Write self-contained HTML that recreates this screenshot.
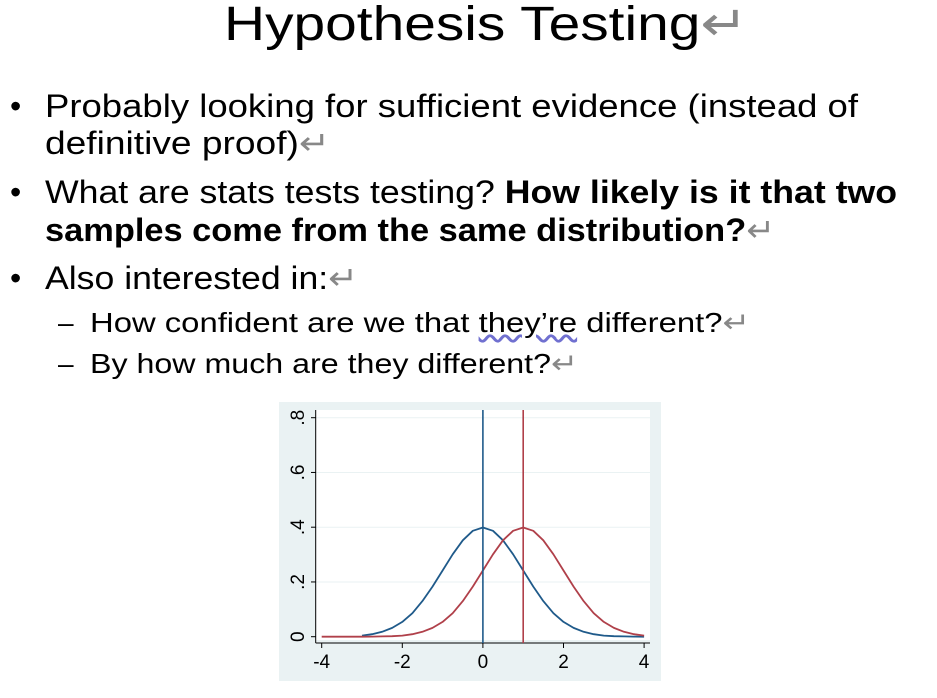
<!DOCTYPE html>
<html><head><meta charset="utf-8"><style>
body{margin:0;width:937px;height:698px;background:#fff;position:relative;overflow:hidden;font-family:"Liberation Sans",sans-serif;color:#000}
.l{position:absolute;white-space:nowrap;transform-origin:0 50%}
.r{color:#888}
.b{font-weight:bold}
</style></head><body>
<div class="l" data-w="524" style="left:224px;top:-4px;font-size:48px;line-height:58px">Hypothesis Testing<span class="r">↵</span></div>

<div class="l" style="left:10px;top:88px;font-size:32px;line-height:36px">•</div>
<div class="l" data-w="813" style="left:45px;top:88px;font-size:32px;line-height:36px">Probably looking for sufficient evidence (instead of</div>
<div class="l" data-w="285" style="left:45px;top:125px;font-size:32px;line-height:36px">definitive proof)<span class="r">↵</span></div>

<div class="l" style="left:10px;top:174px;font-size:32px;line-height:36px">•</div>
<div class="l" data-w="852" style="left:45px;top:174px;font-size:32px;line-height:36px">What are stats tests testing? <span class="b">How likely is it that two</span></div>
<div class="l b" data-w="730" style="left:45px;top:212px;font-size:32px;line-height:36px">samples come from the same distribution?<span class="r" style="font-weight:normal">↵</span></div>

<div class="l" style="left:10px;top:260px;font-size:32px;line-height:36px">•</div>
<div class="l" data-w="313" style="left:45px;top:260px;font-size:32px;line-height:36px">Also interested in:<span class="r">↵</span></div>

<div class="l" style="left:58px;top:307px;font-size:28px;line-height:32px">–</div>
<div class="l" data-w="660" style="left:90px;top:307px;font-size:28px;line-height:32px">How confident are we that <span style="text-decoration:underline wavy #7070d0">they’re</span> different?<span class="r">↵</span></div>
<div class="l" style="left:58px;top:348px;font-size:28px;line-height:32px">–</div>
<div class="l" data-w="488" style="left:90px;top:348px;font-size:28px;line-height:32px">By how much are they different?<span class="r">↵</span></div>

<svg id="chart" width="937" height="698" style="position:absolute;left:0;top:0"></svg>
<script>
const xTicks=[-4,-2,0,2,4];
const yTicks=[0,0.2,0.4,0.6,0.8];
const yTickLabels=["0",".2",".4",".6",".8"];
const xsBlue=[-3,-2.75,-2.5,-2.25,-2,-1.75,-1.5,-1.25,-1,-0.75,-0.5,-0.25,0,0.25,0.5,0.75,1,1.25,1.5,1.75,2,2.25,2.5,2.75,3,3.25,3.5,3.75,4];
const blueVals=[0.004,0.009,0.018,0.032,0.054,0.086,0.13,0.183,0.242,0.301,0.352,0.387,0.399,0.387,0.352,0.301,0.242,0.183,0.13,0.086,0.054,0.032,0.018,0.009,0.004,0.002,0.001,0.0004,0.0001];
const xsRed=[-4,-3.75,-3.5,-3.25,-3,-2.75,-2.5,-2.25,-2,-1.75,-1.5,-1.25,-1,-0.75,-0.5,-0.25,0,0.25,0.5,0.75,1,1.25,1.5,1.75,2,2.25,2.5,2.75,3,3.25,3.5,3.75,4];
const redVals=[0,0,0,0,0.0001,0.0004,0.001,0.002,0.004,0.009,0.018,0.032,0.054,0.086,0.13,0.183,0.242,0.301,0.352,0.387,0.399,0.387,0.352,0.301,0.242,0.183,0.13,0.086,0.054,0.032,0.018,0.009,0.004];
const blueMean=0, redMean=1;
const NS="http://www.w3.org/2000/svg";
const svg=document.getElementById('chart');
const X=v=>321.7+(v+4)*40.3;
const Y=v=>636.7-v*273.75;
function mk(t,a){const e=document.createElementNS(NS,t);for(const k in a)e.setAttribute(k,a[k]);svg.appendChild(e);return e;}
let e=mk('rect',{x:279,y:402,width:382,height:279,fill:'#eaf2f3'});


e=mk('rect',{x:316,y:410,width:334,height:230,fill:'#fff'});


yTicks.forEach((t,i)=>{
 if(t>0){e=mk('line',{x1:316,x2:650,y1:Y(t),y2:Y(t),stroke:'#eaf2f3','stroke-width':1});
 
 }
 e=mk('line',{x1:311,x2:316,y1:Y(t),y2:Y(t),stroke:'#000','stroke-width':1});
 
 
 e=mk('text',{x:0,y:0,transform:`translate(304,${Y(t)}) rotate(-90)`,'text-anchor':'middle','font-size':19,'font-family':'Liberation Sans, sans-serif'});
 e.textContent=yTickLabels[i];
 
 
});
xTicks.forEach(t=>{
 e=mk('line',{x1:X(t),x2:X(t),y1:643,y2:648,stroke:'#000','stroke-width':1});
 
 
 e=mk('text',{x:X(t),y:668,'text-anchor':'middle','font-size':19,'font-family':'Liberation Sans, sans-serif'});
 e.textContent=String(t);
 
 
});
e=mk('line',{x1:315.7,x2:315.7,y1:410,y2:643,stroke:'#000','stroke-width':1});


e=mk('line',{x1:315.7,x2:650,y1:643,y2:643,stroke:'#000','stroke-width':1});


function curve(xs,vs,c,name){
 const d=xs.map((x,i)=>(i?'L':'M')+X(x).toFixed(1)+','+Y(vs[i]).toFixed(1)).join('');
 const p=mk('path',{d:d,fill:'none',stroke:c,'stroke-width':1.8,'stroke-linejoin':'round'});
 
 
}
curve(xsBlue,blueVals,'#1f5a8a','blue-density-curve');
curve(xsRed,redVals,'#b0404a','red-density-curve');
e=mk('line',{x1:X(blueMean),x2:X(blueMean),y1:410,y2:643,stroke:'#1f5a8a','stroke-width':1.6});


e=mk('line',{x1:X(redMean),x2:X(redMean),y1:410,y2:643,stroke:'#b0404a','stroke-width':1.6});


document.querySelectorAll('[data-w]').forEach(el=>{
 const w=el.getBoundingClientRect().width;
 el.style.transform='scaleX('+(parseFloat(el.dataset.w)/w)+')';
});
</script>
</body></html>
